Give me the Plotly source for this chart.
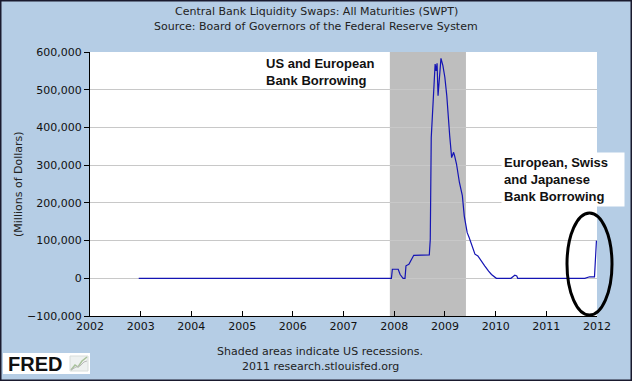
import plotly.graph_objects as go

# ---- data ----
dates = ["2002-12-18", "2007-12-12", "2007-12-19", "2008-01-30", "2008-02-13", "2008-03-05",
         "2008-03-19", "2008-03-26", "2008-04-16", "2008-05-21", "2008-09-10", "2008-09-17",
         "2008-09-24", "2008-10-08", "2008-10-15", "2008-10-22", "2008-10-29", "2008-11-05",
         "2008-11-12", "2008-11-19", "2008-12-03", "2008-12-17", "2008-12-31", "2009-01-14",
         "2009-01-28", "2009-02-04", "2009-02-18", "2009-03-04", "2009-03-11", "2009-03-25",
         "2009-04-15", "2009-05-06", "2009-05-20", "2009-06-10", "2009-06-24", "2009-07-15",
         "2009-08-05", "2009-08-26", "2009-09-23", "2009-10-14", "2009-11-11", "2009-12-02",
         "2010-01-06", "2010-04-21", "2010-05-12", "2010-05-19", "2010-06-02", "2010-06-09",
         "2011-10-05", "2011-11-09", "2011-12-14", "2011-12-28"]
swaps = [0, 0, 24000, 24000, 10000, 0,
         0, 33000, 37000, 61000, 62000, 103000,
         373000, 484000, 546000, 568000, 550000, 570000,
         484000, 528000, 583000, 564000, 533000, 484000,
         396000, 378000, 320000, 334000, 325000, 303000,
         254000, 219000, 165000, 121000, 108000, 86000,
         64000, 59000, 46000, 33000, 19000, 10000,
         0, 0, 6000, 8000, 6000, 0,
         0, 4000, 4000, 99800]
recession_start = "2007-12-01"
recession_end = "2009-06-01"
year_ticks = [f"{y}-01-01" for y in range(2002, 2013)]
year_labels = [str(y) for y in range(2002, 2013)]

BG = "#B5CDE5"
L, R, T, B = 90, 597, 52, 316
W, H = 632, 381

def px(x):
    return (x - L) / (R - L)

def py(y):
    return (B - y) / (B - T)

fig = go.Figure()
fig.add_trace(go.Scatter(x=dates, y=swaps, mode="lines",
                         line=dict(color="#1414B4", width=1.2), hoverinfo="skip"))

fig.add_shape(type="rect", xref="x", yref="paper", x0=recession_start, x1=recession_end,
              y0=0, y1=1, fillcolor="#BEBEBE", line_width=0, layer="below")

# ellipse highlight
fig.add_shape(type="circle", xref="paper", yref="paper",
              x0=px(567), x1=px(612), y0=py(315), y1=py(213),
              line=dict(color="black", width=3))

# outer border
fig.add_shape(type="rect", xref="paper", yref="paper",
              x0=px(0.75), x1=px(W - 0.75), y0=py(H - 0.75), y1=py(0.75),
              line=dict(color="#1A1A2E", width=1.5))

# FRED logo box and icon
fig.add_shape(type="rect", xref="paper", yref="paper",
              x0=px(3), x1=px(90), y0=py(374), y1=py(353),
              fillcolor="white", line_width=0)
fig.add_shape(type="rect", xref="paper", yref="paper",
              x0=px(70), x1=px(88), y0=py(371), y1=py(356),
              fillcolor="#EEF1F0", line=dict(color="#D8DDDA", width=1))
fig.add_shape(type="path", xref="paper", yref="paper",
              path=f"M {px(71)} {py(370)} L {px(75)} {py(365)} L {px(78)} {py(367)} L {px(82)} {py(361)} L {px(87)} {py(357)}",
              line=dict(color="#A9C29A", width=1.5))
fig.add_shape(type="path", xref="paper", yref="paper",
              path=f"M {px(71)} {py(370)} L {px(76)} {py(367)} L {px(80)} {py(366)} L {px(84)} {py(362)} L {px(87)} {py(361)}",
              line=dict(color="#B9B9B9", width=1))

font = "DejaVu Sans, Verdana, sans-serif"
ann = []
def txt(t, x, y, **kw):
    d = dict(text=t, x=px(x), y=py(y), xref="paper", yref="paper", showarrow=False,
             xanchor="center", yanchor="middle", font=dict(family=font, size=11, color="#222"))
    d.update(kw)
    ann.append(d)

txt("Central Bank Liquidity Swaps: All Maturities (SWPT)", 316, 12)
txt("Source: Board of Governors of the Federal Reserve System", 316, 26)
txt("Shaded areas indicate US recessions.", 320, 351)
txt("2011 research.stlouisfed.org", 320, 366)
txt("(Millions of Dollars)", 18, 184, textangle=-90)
txt("<b>FRED</b>", 6, 364, xanchor="left",
    font=dict(family="Liberation Sans, Arial, sans-serif", size=20, color="#111"))
txt("<b>US and European<br>Bank Borrowing</b>", 264, 54, xanchor="left", yanchor="top", align="left",
    font=dict(family="Liberation Sans, Arial, sans-serif", size=13, color="#111"))
txt("<b>European, Swiss<br>and Japanese<br>Bank Borrowing</b>", 501, 152, xanchor="left", yanchor="top",
    align="left", bgcolor="white", borderpad=2, width=118,
    font=dict(family="Liberation Sans, Arial, sans-serif", size=13, color="#111"))

fig.update_layout(
    width=W, height=H,
    margin=dict(l=L, r=W - R, t=T, b=H - B),
    paper_bgcolor=BG, plot_bgcolor="white",
    showlegend=False,
    annotations=ann,
    xaxis=dict(type="date", range=["2002-01-01", "2012-01-01"], tickvals=year_ticks,
               ticktext=year_labels, ticks="inside", ticklen=5, tickcolor="black",
               showline=True, linecolor="black", linewidth=1, showgrid=False, zeroline=False,
               tickfont=dict(family=font, size=11, color="#111")),
    yaxis=dict(range=[-100000, 600000], dtick=100000, tickformat=",d", ticks="outside",
               ticklen=5, tickcolor="black", showline=True, linecolor="black", linewidth=1,
               showgrid=True, gridcolor="#C8C8C8", gridwidth=1, zeroline=False,
               tickfont=dict(family=font, size=11, color="#111")),
)

fig.write_html("out.html", config={"displayModeBar": False},
               post_script="document.body.style.margin='0';document.body.style.overflow='hidden';")
